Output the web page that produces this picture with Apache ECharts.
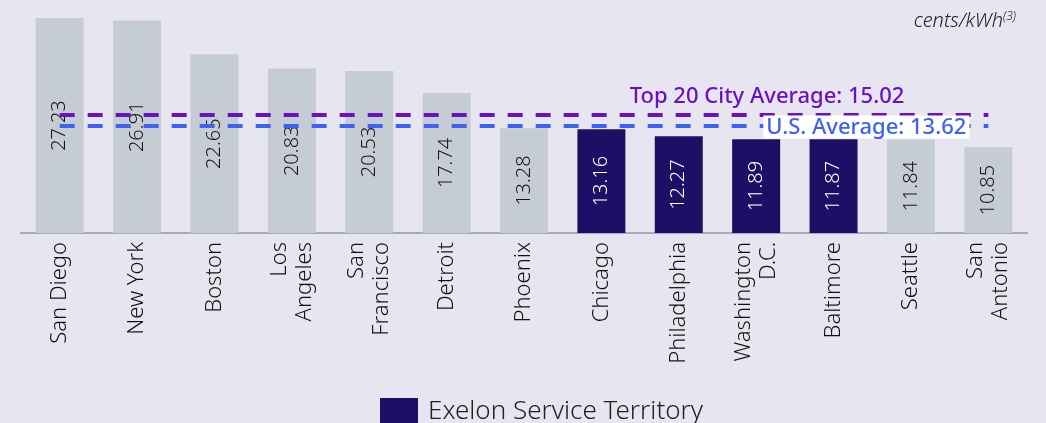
<!DOCTYPE html>
<html>
<head>
<meta charset="utf-8">
<script src="https://cdn.jsdelivr.net/npm/echarts@6/dist/echarts.min.js"></script>
<style>
html,body{margin:0;padding:0;background:#e7e6f0;}
#c{width:1046px;height:423px;}
</style>
</head>
<body>
<div id="c"></div>
<script>
var cities = ['San Diego','New York','Boston','Los\nAngeles','San\nFrancisco','Detroit','Phoenix','Chicago','Philadelphia','Washington\nD.C.','Baltimore','Seattle','San\nAntonio'];
var prices = [27.23, 26.91, 22.65, 20.83, 20.53, 17.74, 13.28, 13.16, 12.27, 11.89, 11.87, 11.84, 10.85];
var exelonFlags = [false, false, false, false, false, false, false, true, true, true, true, false, false];
var top20Avg = 15.02;
var usAvg = 13.62;
var legendName = 'Exelon Service Territory';

var NAVY = '#1b0f66', GRAY = '#c6ccd3', PURPLE = '#6b10c4', BLUE = '#3d62f5';
var FONT = '"Noto Sans", "Open Sans", sans-serif';

var barData = prices.map(function (v, i) {
  var ex = exelonFlags[i];
  return {
    value: v,
    itemStyle: { color: ex ? NAVY : GRAY },
    label: { color: ex ? '#ffffff' : '#161616' }
  };
});
var last = cities.length - 1;

var chart = echarts.init(document.getElementById('c'), null, { renderer: 'canvas' });
chart.setOption({
  backgroundColor: '#e7e6f0',
  animation: false,
  title: {
    text: '{a|cents/kWh}{b|(3)}',
    right: 30, top: 11,
    padding: 0,
    textStyle: {
      rich: {
        a: { fontFamily: FONT, fontStyle: 'italic', fontSize: 20, color: '#222', fontWeight: 300 },
        b: { fontFamily: FONT, fontStyle: 'italic', fontSize: 12, color: '#222', fontWeight: 300, verticalAlign: 'top', padding: [0, 0, 8, 0] }
      }
    }
  },
  legend: {
    data: [{ name: legendName, itemStyle: { color: NAVY } }],
    left: 380, top: 398, padding: 0,
    itemWidth: 38, itemHeight: 28, itemGap: 10,
    icon: 'rect',
    textStyle: { fontFamily: FONT, fontSize: 26, color: '#222', fontWeight: 300, padding: [0, 0, 0, 5] }
  },
  grid: { left: 21, right: 19, top: 12, bottom: 190, containLabel: false },
  xAxis: {
    type: 'category',
    data: cities,
    axisLine: { lineStyle: { color: '#a4adb5', width: 2 } },
    axisTick: { show: false },
    axisLabel: {
      rotate: 90, interval: 0, margin: 9,
      fontFamily: FONT, fontSize: 22, color: '#111', fontWeight: 300, lineHeight: 25
    }
  },
  yAxis: { type: 'value', min: 0, max: 28, show: false, splitLine: { show: false } },
  series: [{
    name: legendName,
    type: 'bar',
    barWidth: '62%',
    itemStyle: { color: NAVY },
    data: barData,
    label: {
      show: true, position: 'inside', rotate: 90,
      fontFamily: FONT, fontSize: 20, fontWeight: 300,
      formatter: function (p) { return p.value.toFixed(2); }
    },
    markLine: {
      silent: true, symbol: 'none',
      data: [
        [
          { coord: [0, top20Avg], lineStyle: { color: PURPLE, width: 4, type: [15, 13] },
            label: { show: true, position: 'insideEndTop', distance: [84, 7],
              formatter: 'Top 20 City Average: ' + top20Avg.toFixed(2),
              color: PURPLE, fontFamily: FONT, fontSize: 22, fontWeight: 500 } },
          { coord: [last, top20Avg] }
        ],
        [
          { coord: [0, usAvg], lineStyle: { color: BLUE, width: 4, type: [15, 13] },
            label: { show: true, position: 'insideEndTop', distance: [19, -13],
              formatter: 'U.S. Average: ' + usAvg.toFixed(2),
              color: BLUE, fontFamily: FONT, fontSize: 22, fontWeight: 500,
              backgroundColor: '#ffffff', padding: [1, 3, 0, 3] } },
          { coord: [last, usAvg] }
        ]
      ]
    }
  }]
});
</script>
</body>
</html>
